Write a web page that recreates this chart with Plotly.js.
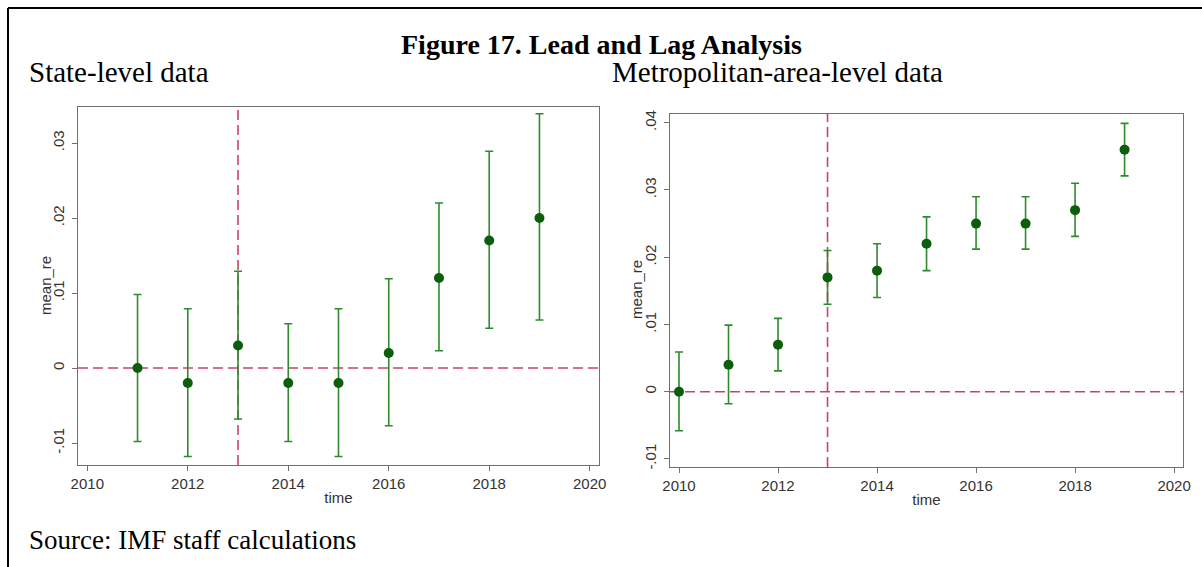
<!DOCTYPE html>
<html>
<head>
<meta charset="utf-8">
<script src="https://cdn.plot.ly/plotly-3.0.1.min.js"></script>
<style>html,body{margin:0;padding:0;background:#fff;}#chart{width:1202px;height:567px;}</style>
</head>
<body>
<div id="chart"></div>
<script>
// ---- Data ----
const stateYears = [2011, 2012, 2013, 2014, 2015, 2016, 2017, 2018, 2019];
const stateMean  = [0.000, -0.002, 0.003, -0.002, -0.002, 0.002, 0.012, 0.017, 0.020];
const stateUpper = [0.0098, 0.0079, 0.0129, 0.0059, 0.0079, 0.0119, 0.0220, 0.0289, 0.0339];
const stateLower = [-0.0098, -0.0118, -0.0068, -0.0098, -0.0118, -0.0077, 0.0023, 0.0053, 0.0064];

const metroYears = [2010, 2011, 2012, 2013, 2014, 2015, 2016, 2017, 2018, 2019];
const metroMean  = [0.000, 0.004, 0.007, 0.017, 0.018, 0.022, 0.025, 0.025, 0.027, 0.036];
const metroUpper = [0.0059, 0.0099, 0.0109, 0.0210, 0.0220, 0.0260, 0.0290, 0.0290, 0.0310, 0.0399];
const metroLower = [-0.0058, -0.0018, 0.0031, 0.0130, 0.0140, 0.0180, 0.0212, 0.0212, 0.0231, 0.0321];

const xTickVals = [2010, 2012, 2014, 2016, 2018, 2020];
const xTickText = ['2010', '2012', '2014', '2016', '2018', '2020'];
const stateYTickVals = [-0.01, 0, 0.01, 0.02, 0.03];
const stateYTickText = ['-.01', '0', '.01', '.02', '.03'];
const metroYTickVals = [-0.01, 0, 0.01, 0.02, 0.03, 0.04];
const metroYTickText = ['-.01', '0', '.01', '.02', '.03', '.04'];

const treatYear = 2013;
const refZero = 0;

const figTitle = 'Figure 17. Lead and Lag Analysis';
const leftLabel = 'State-level data';
const rightLabel = 'Metropolitan-area-level data';
const sourceText = 'Source: IMF staff calculations';
const yTitle = 'mean_re';
const xTitle = 'time';

// ---- Styles ----
const W = 1202, H = 567;
const markerColor = '#0b5e0b';
const barColor = '#2f8a2f';
const refColor = '#c8426e';
const axisColor = '#707070';
const textColor = '#333333';
const sansFont = 'Liberation Sans, Arial, sans-serif';
const serifFont = 'Liberation Serif, Times New Roman, serif';

function diff(a, b) { return a.map((v, i) => +(v - b[i]).toFixed(6)); }

function scatterTrace(x, y, up, lo, xa, ya) {
  return {
    type: 'scatter', mode: 'markers', x: x, y: y, xaxis: xa, yaxis: ya,
    marker: { color: markerColor, size: 10, line: { width: 0 } },
    error_y: {
      type: 'data', symmetric: false,
      array: diff(up, y), arrayminus: diff(y, lo),
      color: barColor, thickness: 1.6, width: 4
    },
    showlegend: false, hoverinfo: 'x+y'
  };
}

const traces = [
  scatterTrace(stateYears, stateMean, stateUpper, stateLower, 'x', 'y'),
  scatterTrace(metroYears, metroMean, metroUpper, metroLower, 'x2', 'y2')
];

function xAxis(domain, range, anchor) {
  return {
    domain: domain, range: range, anchor: anchor,
    tickmode: 'array', tickvals: xTickVals, ticktext: xTickText,
    ticks: 'outside', ticklen: 5, tickwidth: 1, tickcolor: axisColor,
    showline: true, linecolor: axisColor, linewidth: 1.2, mirror: true,
    showgrid: false, zeroline: false,
    tickfont: { family: sansFont, size: 15, color: textColor },
    title: { text: xTitle, font: { family: sansFont, size: 15, color: textColor }, standoff: 1 }
  };
}
function yAxis(domain, range, anchor, tv, tt) {
  return {
    domain: domain, range: range, anchor: anchor,
    tickmode: 'array', tickvals: tv, ticktext: tt, tickangle: -90,
    ticks: 'outside', ticklen: 5, tickwidth: 1, tickcolor: axisColor,
    ticklabelstandoff: 2,
    showline: true, linecolor: axisColor, linewidth: 1.2, mirror: true,
    showgrid: false, zeroline: false,
    tickfont: { family: sansFont, size: 15, color: textColor }
  };
}

const dashStyle = '10px,5px';
const shapes = [
  { type: 'line', xref: 'x', yref: 'y domain', x0: treatYear, x1: treatYear, y0: 0, y1: 1, layer: 'below',
    line: { color: refColor, width: 1.6, dash: dashStyle } },
  { type: 'line', xref: 'x domain', yref: 'y', x0: 0, x1: 1, y0: refZero, y1: refZero, layer: 'below',
    line: { color: refColor, width: 1.6, dash: dashStyle } },
  { type: 'line', xref: 'x2', yref: 'y2 domain', x0: treatYear, x1: treatYear, y0: 0, y1: 1, layer: 'below',
    line: { color: refColor, width: 1.6, dash: dashStyle } },
  { type: 'line', xref: 'x2 domain', yref: 'y2', x0: 0, x1: 1, y0: refZero, y1: refZero, layer: 'below',
    line: { color: refColor, width: 1.6, dash: dashStyle } },
  // outer frame (left + top edges)
  { type: 'line', xref: 'paper', yref: 'paper', x0: 8 / W, x1: 8 / W, y0: 0, y1: 1 - 8 / H,
    line: { color: '#000', width: 2 } },
  { type: 'line', xref: 'paper', yref: 'paper', x0: 8 / W, x1: 1, y0: 1 - 8 / H, y1: 1 - 8 / H,
    line: { color: '#000', width: 2 } }
];

const annotations = [
  { text: '<b>' + figTitle + '</b>', xref: 'paper', yref: 'paper', x: 601 / W, y: 1 - 44 / H,
    xanchor: 'center', yanchor: 'middle', showarrow: false,
    font: { family: serifFont, size: 28, color: '#000' } },
  { text: leftLabel, xref: 'paper', yref: 'paper', x: 27 / W, y: 1 - 72 / H,
    xanchor: 'left', yanchor: 'middle', showarrow: false,
    font: { family: serifFont, size: 29, color: '#000' } },
  { text: rightLabel, xref: 'paper', yref: 'paper', x: 610 / W, y: 1 - 72 / H,
    xanchor: 'left', yanchor: 'middle', showarrow: false,
    font: { family: serifFont, size: 29, color: '#000' } },
  { text: sourceText, xref: 'paper', yref: 'paper', x: 27 / W, y: 1 - 540 / H,
    xanchor: 'left', yanchor: 'middle', showarrow: false,
    font: { family: serifFont, size: 27, color: '#000' } },
  // y-axis titles
  { text: yTitle, xref: 'paper', yref: 'paper', x: 45 / W, y: 1 - 286 / H, textangle: -90,
    xanchor: 'center', yanchor: 'middle', showarrow: false,
    font: { family: sansFont, size: 15, color: textColor } },
  { text: yTitle, xref: 'paper', yref: 'paper', x: 636 / W, y: 1 - 290 / H, textangle: -90,
    xanchor: 'center', yanchor: 'middle', showarrow: false,
    font: { family: sansFont, size: 15, color: textColor } }
];

const layout = {
  width: W, height: H,
  margin: { l: 0, r: 0, t: 0, b: 0 },
  paper_bgcolor: '#fff', plot_bgcolor: '#fff',
  showlegend: false,
  xaxis: xAxis([78 / W, 599 / W], [2009.815, 2020.185], 'y'),
  yaxis: yAxis([102 / H, 460 / H], [-0.01293, 0.0348], 'x', stateYTickVals, stateYTickText),
  xaxis2: xAxis([670 / W, 1183 / W], [2009.818, 2020.18], 'y2'),
  yaxis2: yAxis([100 / H, 453 / H], [-0.0112, 0.0413], 'x2', metroYTickVals, metroYTickText),
  shapes: shapes,
  annotations: annotations
};

Plotly.newPlot('chart', traces, layout, { displayModeBar: false, staticPlot: true });
</script>
</body>
</html>
